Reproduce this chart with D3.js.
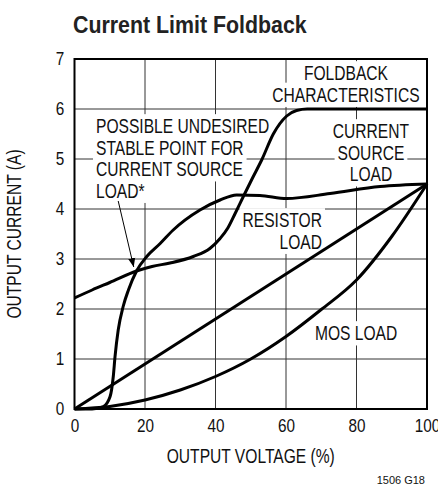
<!DOCTYPE html>
<html>
<head>
<meta charset="utf-8">
<script src="https://cdn.jsdelivr.net/npm/d3@7"></script>
<style>
body { margin: 0; background: #fff; }
svg text { font-family: "Liberation Sans", Arial, sans-serif; }
</style>
</head>
<body>
<div id="svgdiv"></div>
<script>
// values (output voltage in %, current in A)
var voltTicks = [0, 20, 40, 60, 80, 100];
var currentTicks = [0, 1, 2, 3, 4, 5, 6, 7];

var foldbackV = [0, 5, 10, 17.6, 22, 27.1, 33.7, 38.4, 41.3, 43.5, 45.5, 47.9, 50.5, 53.1, 56.4, 60.2, 63, 66, 80, 100];
var foldbackI = [2.22, 2.38, 2.53, 2.76, 2.85, 2.92, 3.05, 3.21, 3.41, 3.62, 3.9, 4.25, 4.62, 4.98, 5.5, 5.86, 5.97, 6.0, 6.0, 6.0];

var sourceV = [0, 5, 8.2, 10.1, 11.0, 11.5, 12.4, 13.8, 15.3, 17.6, 20.5, 24.3, 28.0, 35.6, 41.3, 46.0, 52.6, 60.2, 72.5, 86.7, 100];
var sourceI = [0, 0, 0.05, 0.25, 0.65, 1.05, 1.58, 2.05, 2.38, 2.76, 3.05, 3.31, 3.58, 3.98, 4.18, 4.28, 4.27, 4.21, 4.31, 4.45, 4.5];

var resistorV = [0, 100];
var resistorI = [0, 4.5];

var mosV = [0, 10, 20, 30, 40, 50, 60, 70, 80, 90, 100];
var mosI = [0, 0.05, 0.18, 0.38, 0.65, 1.0, 1.45, 1.99, 2.58, 3.45, 4.5];

var width = 438, height = 494;
var squeeze = 0.78; // the datasheet font is a condensed grotesque

var svg = d3.select("#svgdiv").append("svg")
    .attr("width", width)
    .attr("height", height);

var x = d3.scaleLinear().domain([0, 100]).range([74.5, 427]);
var y = d3.scaleLinear().domain([0, 7]).range([409, 59]);

// text helper: place at px,py and squeeze horizontally
function ctext(parent, px, py, s, size, anchor, sx, rot) {
    var tr = "translate(" + px + "," + py + ")" + (rot ? " rotate(" + rot + ")" : "") + " scale(" + sx + ",1)";
    return parent.append("text")
        .attr("transform", tr)
        .attr("text-anchor", anchor || "start")
        .attr("font-size", size + "px")
        .attr("fill", "#111")
        .text(s);
}

// title
ctext(svg, 73, 33, "Current Limit Foldback", 24, "start", 0.89)
    .attr("font-weight", "bold")
    .attr("fill", "#222");

// grid
var grid = svg.append("g");
grid.selectAll("line.v")
    .data(voltTicks.slice(1, -1))
    .enter().append("line")
    .attr("x1", d => x(d)).attr("x2", d => x(d))
    .attr("y1", y(0)).attr("y2", y(7))
    .style("stroke", "#333")
    .style("stroke-width", "1px");
grid.selectAll("line.h")
    .data(currentTicks.slice(1, -1))
    .enter().append("line")
    .attr("y1", d => y(d)).attr("y2", d => y(d))
    .attr("x1", x(0)).attr("x2", x(100))
    .style("stroke", "#333")
    .style("stroke-width", "1px");

var boxes = svg.append("g");
var curves = svg.append("g");
var labels = svg.append("g");

svg.append("rect")
    .attr("x", x(0)).attr("y", y(7))
    .attr("width", x(100) - x(0))
    .attr("height", y(0) - y(7))
    .style("fill", "none")
    .style("stroke", "black")
    .style("stroke-width", "2px");

// axes, tick labels only
var xAxis = svg.append("g")
    .attr("transform", "translate(0," + y(0) + ")")
    .call(d3.axisBottom(x).tickValues(voltTicks).tickFormat(d3.format("d")).tickSize(0).tickPadding(10));
var yAxis = svg.append("g")
    .attr("transform", "translate(" + x(0) + ",0)")
    .call(d3.axisLeft(y).tickValues(currentTicks).tickFormat(d3.format("d")).tickSize(0).tickPadding(12));
[xAxis, yAxis].forEach(function (a) {
    a.select(".domain").remove();
    a.attr("font-family", null).attr("font-size", null);
    a.selectAll("text")
        .attr("font-size", "18px")
        .attr("fill", "#111")
        .attr("transform", "scale(0.85,1)");
});

ctext(svg, (x(0) + x(100)) / 2, 463, "OUTPUT VOLTAGE (%)", 20, "middle", squeeze);
ctext(svg, 21, y(3.5), "OUTPUT CURRENT (A)", 20, "middle", squeeze, -90);

svg.append("text")
    .attr("x", 425)
    .attr("y", 484)
    .attr("text-anchor", "end")
    .attr("font-size", "11px")
    .attr("fill", "#111")
    .text("1506 G18");

// curves
var line = d3.line()
    .x(d => x(d[0]))
    .y(d => y(d[1]))
    .curve(d3.curveMonotoneX);

var series = [
    d3.zip(foldbackV, foldbackI),
    d3.zip(sourceV, sourceI),
    d3.zip(resistorV, resistorI),
    d3.zip(mosV, mosI)
];

curves.selectAll("path")
    .data(series)
    .enter().append("path")
    .attr("d", line)
    .style("fill", "none")
    .style("stroke", "black")
    .style("stroke-width", "3px")
    .style("stroke-linejoin", "round");

// annotation text with white knock-out boxes behind each line
function addLabel(lines, xv, yv, anchor) {
    var lh = 21.5;
    lines.forEach(function (s, i) {
        var px = x(xv), py = y(yv) + i * lh;
        var t = ctext(labels, px, py, s, 20, anchor, squeeze);
        var b = t.node().getBBox();
        boxes.append("rect")
            .attr("x", px + b.x * squeeze - 3)
            .attr("y", py + b.y - 1)
            .attr("width", b.width * squeeze + 6)
            .attr("height", b.height + 2)
            .style("fill", "white");
    });
}

addLabel(["FOLDBACK", "CHARACTERISTICS"], 77, 6.58, "middle");
addLabel(["POSSIBLE UNDESIRED", "STABLE POINT FOR", "CURRENT SOURCE", "LOAD*"], 6.1, 5.52, "start");
addLabel(["CURRENT", "SOURCE", "LOAD"], 84.1, 5.42, "middle");
addLabel(["RESISTOR", "LOAD"], 70.2, 3.64, "end");
addLabel(["MOS LOAD"], 68.2, 1.38, "start");

// arrow to the undesired stable point
svg.append("defs").append("marker")
    .attr("id", "arrowhead")
    .attr("viewBox", "0 0 10 10")
    .attr("refX", 10).attr("refY", 5)
    .attr("markerWidth", 9).attr("markerHeight", 9)
    .attr("markerUnits", "userSpaceOnUse")
    .attr("orient", "auto")
    .append("path")
    .attr("d", "M0,1 L10,5 L0,9 Z")
    .style("fill", "black");

svg.append("line")
    .attr("x1", x(12.4)).attr("y1", y(4.16))
    .attr("x2", x(16.8)).attr("y2", y(2.84))
    .style("stroke", "black")
    .style("stroke-width", "1px")
    .attr("marker-end", "url(#arrowhead)");
</script>
</body>
</html>
